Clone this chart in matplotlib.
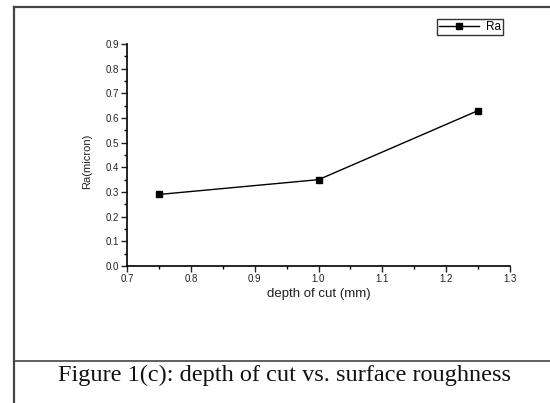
import matplotlib.pyplot as plt
from matplotlib.lines import Line2D
from matplotlib.ticker import MultipleLocator

depth = [0.75, 1.0, 1.25]
ra = [0.29, 0.35, 0.63]
xticks = [0.7, 0.8, 0.9, 1.0, 1.1, 1.2, 1.3]
yticks = [0.0, 0.1, 0.2, 0.3, 0.4, 0.5, 0.6, 0.7, 0.8, 0.9]

plt.rcParams['font.family'] = ['Liberation Sans', 'DejaVu Sans']

fig = plt.figure(figsize=(5.5, 4.03), dpi=100)
W, H = 550, 403

# page frame around the figure and caption
fc = '#444444'
fig.add_artist(Line2D([14 / W, 14 / W], [0, 1 - 7 / H], transform=fig.transFigure, color=fc, lw=1.6))
fig.add_artist(Line2D([14 / W, 1], [1 - 7 / H, 1 - 7 / H], transform=fig.transFigure, color=fc, lw=1.6))
fig.add_artist(Line2D([14 / W, 1], [1 - 361 / H, 1 - 361 / H], transform=fig.transFigure, color=fc, lw=1.2))

ax = fig.add_axes([127 / W, 1 - 266 / H, 383 / W, 222 / H])
ax.plot(depth, ra, color='black', lw=1, marker='s', markersize=5, label='Ra')

ax.set_xlim(0.7, 1.3)
ax.set_ylim(0.0, 0.9)
ax.set_xticks(xticks)
ax.set_yticks(yticks)
ax.set_xticklabels([f'{v:.1f}' for v in xticks])
ax.set_yticklabels([f'{v:.1f}' for v in yticks])
ax.xaxis.set_minor_locator(MultipleLocator(0.05))
ax.yaxis.set_minor_locator(MultipleLocator(0.05))
ax.tick_params(which='major', direction='out', length=4, width=1, labelsize=7, pad=2, colors='#222222')
ax.tick_params(which='minor', direction='out', length=2.5, width=1)

for s in ['top', 'right']:
    ax.spines[s].set_visible(False)
for s in ['left', 'bottom']:
    ax.spines[s].set_linewidth(1.2)

ax.set_xlabel('depth of cut (mm)', fontsize=9.5, labelpad=3, color='#222222')
ax.set_ylabel('Ra(micron)', fontsize=8, color='#222222')
ax.yaxis.set_label_coords(-0.09, 0.47)

leg = ax.legend(loc='upper right', bbox_to_anchor=(503 / W, 1 - 19 / H), bbox_transform=fig.transFigure,
                fontsize=8.5, frameon=True, fancybox=False, borderpad=0.15, handlelength=3.4,
                handletextpad=0.6, borderaxespad=0, markerscale=0.9)
leg.get_frame().set_edgecolor('black')
leg.get_frame().set_linewidth(1)

fig.text(285 / W, 1 - 381 / H, 'Figure 1(c): depth of cut vs. surface roughness',
         ha='center', va='baseline', fontsize=17.5, family='Liberation Serif', color='#111111')

fig.savefig('out.png', dpi=100)
